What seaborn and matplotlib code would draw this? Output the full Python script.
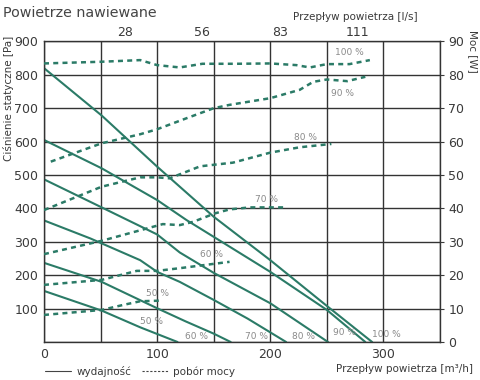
import matplotlib
matplotlib.use("Agg")
import matplotlib.pyplot as plt
from matplotlib.lines import Line2D
import pandas as pd
import seaborn as sns

# fan curves (wydajnosc): flow [m3/h] vs static pressure [Pa]
fan_50_x = [0, 51, 85, 118]
fan_50_y = [153, 94, 44, 0]
fan_60_x = [0, 51, 100, 125, 150, 165]
fan_60_y = [237, 180, 101, 62, 25, 0]
fan_70_x = [0, 41, 85, 100, 120, 150, 180, 214]
fan_70_y = [364, 310, 245, 210, 180, 126, 70, 0]
fan_80_x = [0, 51, 100, 120, 150, 200, 251]
fan_80_y = [487, 403, 322, 268, 207, 116, 0]
fan_90_x = [0, 51, 100, 126, 138, 200, 250, 284]
fan_90_y = [605, 520, 425, 365, 340, 210, 96, 0]
fan_100_x = [0, 51, 100, 150, 200, 250, 290]
fan_100_y = [820, 678, 525, 375, 245, 108, 0]

# power curves (pobor mocy): flow [m3/h] vs power [W]
pow_50_x = [0, 51, 70, 85, 105]
pow_50_y = [8.1, 9.6, 11.1, 12.2, 12.4]
pow_60_x = [0, 51, 82, 100, 120, 164]
pow_60_y = [17.1, 18.6, 21.3, 21.3, 22.1, 24.0]
pow_70_x = [0, 51, 91, 105, 120, 132, 151, 164, 182, 213]
pow_70_y = [26.3, 30.3, 34.0, 35.3, 35.0, 36.0, 38.5, 39.7, 40.3, 40.3]
pow_80_x = [0, 51, 85, 100, 111, 138, 167, 200, 226, 254]
pow_80_y = [39.5, 46.5, 49.3, 49.3, 49.0, 52.6, 53.7, 56.7, 58.3, 59.3]
pow_90_x = [6, 51, 85, 100, 126, 150, 164, 200, 226, 238, 250, 268, 284]
pow_90_y = [54.0, 59.5, 62.2, 63.7, 67.0, 70.0, 71.0, 73.0, 75.5, 77.9, 78.6, 78.1, 79.4]
pow_100_x = [0, 50, 85, 100, 120, 140, 170, 200, 223, 235, 250, 270, 288]
pow_100_y = [83.4, 83.9, 84.4, 82.9, 82.2, 83.3, 83.3, 83.4, 82.9, 82.2, 83.2, 83.2, 84.4]

speeds = ["50 %", "60 %", "70 %", "80 %", "90 %", "100 %"]
fan_x = [fan_50_x, fan_60_x, fan_70_x, fan_80_x, fan_90_x, fan_100_x]
fan_y = [fan_50_y, fan_60_y, fan_70_y, fan_80_y, fan_90_y, fan_100_y]
pow_x = [pow_50_x, pow_60_x, pow_70_x, pow_80_x, pow_90_x, pow_100_x]
pow_y = [pow_50_y, pow_60_y, pow_70_y, pow_80_y, pow_90_y, pow_100_y]

# label positions (flow, pressure)
fan_lbl_x = [95, 135, 188, 229, 266, 303]
fan_lbl_y = [61, 16, 16, 16, 27, 21]
pow_lbl_x = [100, 148, 197, 231, 264, 270]
pow_lbl_y = [146, 263, 428, 613, 745, 866]

top_ticks = [72, 140, 209, 277]
top_labels = ["28", "56", "83", "111"]

green = "#2b7b67"
grid_c = "#333333"
txt_c = "#3a3a3a"

fan_df = pd.concat([pd.DataFrame({"flow": x, "pa": y, "speed": s})
                    for x, y, s in zip(fan_x, fan_y, speeds)])
pow_df = pd.concat([pd.DataFrame({"flow": x, "w": y, "speed": s})
                    for x, y, s in zip(pow_x, pow_y, speeds)])

sns.set_style("white")
plt.rcParams["font.family"] = ["DejaVu Sans"]

fig = plt.figure(figsize=(4.8, 3.8), dpi=100)
ax = fig.add_axes([44 / 480, 1 - 342 / 380, 396 / 480, 300.6 / 380])

sns.lineplot(data=fan_df, x="flow", y="pa", units="speed", estimator=None,
             sort=False, color=green, lw=1.5, ax=ax)
ax.set_xlim(0, 350)
ax.set_ylim(0, 900)
ax.set_xticks(range(0, 351, 50))
ax.set_xticklabels(["0", "", "100", "", "200", "", "300", ""])
ax.set_yticks(range(0, 901, 100))
ax.set_yticklabels(["", "100", "200", "300", "400", "500", "600", "700", "800", "900"])
ax.grid(True, color=grid_c, lw=1.0)
ax.set_axisbelow(True)
ax.set_xlabel("")
ax.set_ylabel("")
ax.tick_params(axis="both", length=0, labelsize=9, colors=txt_c, pad=4)
for sp in ax.spines.values():
    sp.set_color(grid_c)
    sp.set_linewidth(1.0)

ax2 = ax.twinx()
sns.lineplot(data=pow_df, x="flow", y="w", units="speed", estimator=None,
             sort=False, color=green, lw=1.8, ax=ax2)
for ln in ax2.get_lines():
    ln.set_linestyle((0, (2.0, 1.7)))
ax2.set_ylim(0, 90)
ax2.set_yticks(range(0, 91, 10))
ax2.set_ylabel("")
ax2.tick_params(axis="y", length=3, labelsize=9, colors=txt_c, pad=3)
ax2.grid(False)
for sp in ax2.spines.values():
    sp.set_visible(False)

ax3 = ax.twiny()
ax3.set_xlim(0, 350)
ax3.set_xticks(top_ticks)
ax3.set_xticklabels(top_labels)
ax3.tick_params(axis="x", length=0, labelsize=9, colors=txt_c, pad=2)
for sp in ax3.spines.values():
    sp.set_visible(False)

for i in range(len(speeds)):
    ax.text(fan_lbl_x[i], fan_lbl_y[i], speeds[i], fontsize=6.5, color="#8a8a8a",
            ha="center", va="center")
    ax.text(pow_lbl_x[i], pow_lbl_y[i], speeds[i], fontsize=6.5, color="#8a8a8a",
            ha="center", va="center")

fig.text(0.006, 0.967, "Powietrze nawiewane", fontsize=10.3, color="#444444",
         ha="left", va="center")
fig.text(0.74, 0.955, "Przepływ powietrza [l/s]", fontsize=7.5, color=txt_c,
         ha="center", va="center")
fig.text(0.985, 0.03, "Przepływ powietrza [m³/h]", fontsize=7.5, color=txt_c,
         ha="right", va="center")
fig.text(0.018, 0.74, "Ciśnienie statyczne [Pa]", fontsize=7.5, color=txt_c,
         rotation=90, ha="center", va="center")
fig.text(0.985, 0.865, "Moc [W]", fontsize=7.5, color=txt_c,
         rotation=270, ha="center", va="center")

handles = [Line2D([], [], color="#444444", lw=0.8),
           Line2D([], [], color="#444444", lw=0.8, ls=(0, (2, 1.5)))]
fig.legend(handles, ["wydajność", "pobór mocy"], loc="center left",
           bbox_to_anchor=(0.094, 0.022), ncol=2, frameon=False, fontsize=7.5,
           handlelength=2.5, handletextpad=0.5, columnspacing=1.0, labelcolor=txt_c,
           borderpad=0, borderaxespad=0)

fig.savefig("out.png", dpi=100)
